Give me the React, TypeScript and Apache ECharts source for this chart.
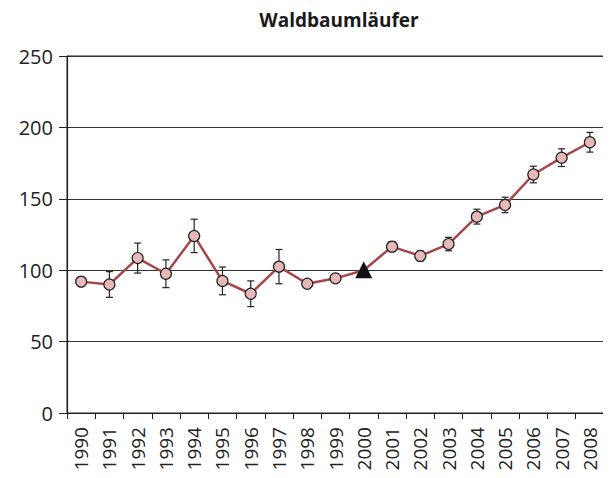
import React, { useEffect, useRef } from "react";
import * as echarts from "echarts";

const years = ["1990","1991","1992","1993","1994","1995","1996","1997","1998","1999","2000","2001","2002","2003","2004","2005","2006","2007","2008"];
const values = [92, 90, 108.5, 97.5, 124, 92.5, 83.5, 102.5, 90.5, 94.3, 100, 116.5, 110, 118.3, 137.5, 145.7, 167, 178.8, 189.6];
const errors = [0, 9, 10.5, 9.7, 11.7, 9.7, 9, 12, 0, 2.5, 0, 3.5, 3.5, 4.7, 5.2, 5.4, 5.8, 6.2, 6.9];
const yTicks = [0, 50, 100, 150, 200, 250];
const baseYear = "2000";

export default function App() {
  const ref = useRef<HTMLDivElement>(null);
  useEffect(() => {
    const chart = echarts.init(ref.current!, null, { renderer: "svg" });
    const font = "'Open Sans', 'Noto Sans', sans-serif";
    const lineData = values.map((v, i) =>
      years[i] === baseYear
        ? { value: v, symbol: "triangle", symbolSize: 15, itemStyle: { color: "#111", borderColor: "#111" } }
        : v
    );
    const errData = values.map((v, i) => [i, v - errors[i], v + errors[i]]);
    chart.setOption({
      animation: false,
      title: {
        text: "Waldbaumläufer",
        left: 334,
        top: 5,
        textAlign: "center",
        textStyle: { fontFamily: font, fontWeight: "bold", fontSize: 19, color: "#1a1a1a" },
      },
      grid: { left: 67, right: 7, top: 56, bottom: 65, show: true, borderColor: "#222", borderWidth: 1 },
      xAxis: {
        type: "category",
        data: years,
        boundaryGap: true,
        axisLine: { lineStyle: { color: "#222", width: 1.2 } },
        axisTick: { show: true, length: 6, lineStyle: { color: "#222" } },
        axisLabel: { rotate: 90, fontSize: 19, fontFamily: font, color: "#222", margin: 14 },
      },
      yAxis: {
        type: "value",
        min: 0,
        max: 250,
        interval: 50,
        axisLine: { show: true, lineStyle: { color: "#222", width: 1.2 } },
        axisTick: { show: true, length: 8, lineStyle: { color: "#222" } },
        axisLabel: {
          fontSize: 20, fontFamily: font, color: "#222", margin: 14,
          formatter: (v: number) => (yTicks.includes(v) ? String(v) : ""),
        },
        splitLine: { show: true, lineStyle: { color: "#333", width: 1 } },
      },
      series: [
        {
          type: "custom",
          z: 1,
          renderItem: (params: any, api: any) => {
            const x = api.coord([api.value(0), 0])[0];
            const lo = api.coord([api.value(0), api.value(1)])[1];
            const hi = api.coord([api.value(0), api.value(2)])[1];
            const w = 3.5;
            const st = { stroke: "#222", lineWidth: 1.2 };
            return {
              type: "group",
              children: [
                { type: "line", shape: { x1: x, y1: lo, x2: x, y2: hi }, style: st },
                { type: "line", shape: { x1: x - w, y1: lo, x2: x + w, y2: lo }, style: st },
                { type: "line", shape: { x1: x - w, y1: hi, x2: x + w, y2: hi }, style: st },
              ],
            };
          },
          encode: { x: 0, y: [1, 2] },
          data: errData,
        },
        {
          type: "line",
          z: 3,
          data: lineData,
          symbol: "circle",
          symbolSize: 11,
          lineStyle: { color: "#a3474b", width: 2.5 },
          itemStyle: { color: "#e6b9b8", borderColor: "#222", borderWidth: 1.2 },
        },
      ],
    });
    return () => chart.dispose();
  }, []);
  return <div ref={ref} style={{ width: 611, height: 478, margin: -8 }} />;
}
